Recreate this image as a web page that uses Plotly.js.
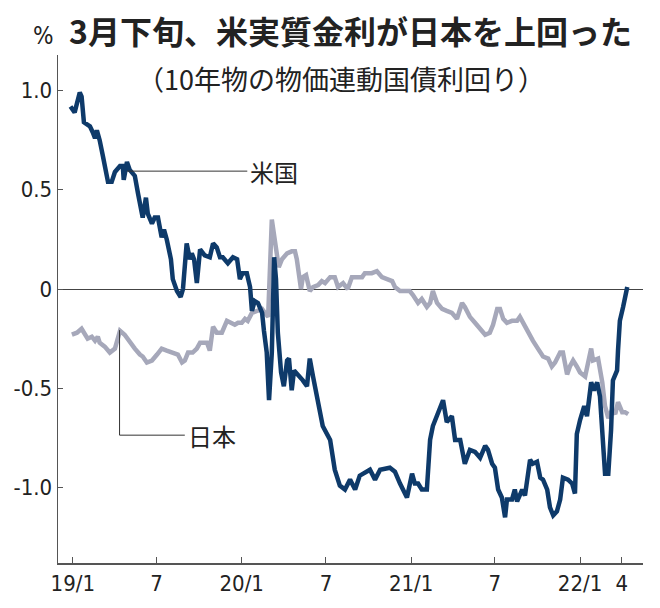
<!DOCTYPE html>
<html>
<head>
<meta charset="utf-8">
<script src="https://cdn.plot.ly/plotly-3.0.1.min.js"></script>
<style>html,body{margin:0;padding:0;background:#fff;}#chart{width:660px;height:608px;}</style>
</head>
<body>
<div id="chart"></div>
<script>
// US 10-year inflation-linked (TIPS) real yield, %
const usDates = ["2018-12-27","2019-01-05","2019-01-16","2019-01-20","2019-01-25","2019-02-07","2019-02-13","2019-02-18","2019-02-22","2019-02-28","2019-03-07","2019-03-15","2019-03-18","2019-03-26","2019-04-02","2019-04-13","2019-04-19","2019-04-21","2019-04-28","2019-05-04","2019-05-15","2019-05-22","2019-05-30","2019-06-01","2019-06-08","2019-06-12","2019-06-21","2019-06-27","2019-07-04","2019-07-12","2019-07-17","2019-07-23","2019-08-01","2019-08-05","2019-08-14","2019-08-22","2019-08-27","2019-09-04","2019-09-11","2019-09-15","2019-09-20","2019-09-26","2019-10-03","2019-10-13","2019-10-24","2019-10-31","2019-11-08","2019-11-15","2019-11-21","2019-12-02","2019-12-13","2019-12-22","2019-12-28","2020-01-03","2020-01-12","2020-01-19","2020-01-23","2020-01-29","2020-02-05","2020-02-14","2020-02-18","2020-02-24","2020-02-29","2020-03-06","2020-03-11","2020-03-15","2020-03-19","2020-03-26","2020-04-01","2020-04-08","2020-04-12","2020-04-18","2020-04-23","2020-05-01","2020-05-12","2020-05-21","2020-05-27","2020-06-03","2020-06-11","2020-06-18","2020-06-24","2020-07-10","2020-07-20","2020-07-31","2020-08-11","2020-08-22","2020-09-02","2020-09-12","2020-10-04","2020-10-15","2020-10-26","2020-11-16","2020-11-27","2020-12-08","2020-12-23","2021-01-03","2021-01-09","2021-01-16","2021-01-24","2021-02-04","2021-02-11","2021-02-17","2021-02-28","2021-03-11","2021-03-19","2021-03-30","2021-04-06","2021-04-17","2021-04-27","2021-05-08","2021-05-19","2021-05-30","2021-06-10","2021-06-16","2021-06-25","2021-07-01","2021-07-08","2021-07-16","2021-07-23","2021-07-27","2021-08-07","2021-08-13","2021-08-18","2021-08-29","2021-09-04","2021-09-15","2021-09-21","2021-09-30","2021-10-07","2021-10-13","2021-10-22","2021-10-28","2021-11-04","2021-11-12","2021-11-19","2021-11-25","2021-12-06","2021-12-15","2021-12-21","2021-12-25","2022-01-01","2022-01-10","2022-01-16","2022-01-25","2022-01-31","2022-02-07","2022-02-13","2022-02-20","2022-02-24","2022-03-03","2022-03-09","2022-03-13","2022-03-22","2022-03-24","2022-03-28","2022-04-04","2022-04-13"];
const usValues = [0.92,0.89,0.99,0.97,0.84,0.82,0.79,0.76,0.80,0.75,0.67,0.58,0.54,0.54,0.59,0.62,0.62,0.55,0.64,0.60,0.57,0.48,0.38,0.36,0.46,0.38,0.33,0.36,0.36,0.26,0.30,0.25,0.15,0.05,-0.01,-0.04,0.00,0.23,0.15,0.18,0.15,0.03,0.20,0.17,0.16,0.23,0.21,0.16,0.16,0.13,0.16,0.15,0.05,0.08,0.08,0.01,-0.11,-0.06,-0.07,-0.12,-0.21,-0.32,-0.56,-0.32,0.16,0.05,-0.22,-0.42,-0.49,-0.36,-0.35,-0.51,-0.41,-0.43,-0.46,-0.49,-0.35,-0.44,-0.54,-0.63,-0.69,-0.76,-0.91,-0.99,-1.01,-0.96,-1.01,-0.94,-0.91,-0.96,-0.91,-0.90,-0.92,-0.98,-1.05,-0.93,-0.98,-0.98,-1.01,-1.01,-0.76,-0.69,-0.63,-0.56,-0.67,-0.64,-0.76,-0.76,-0.88,-0.81,-0.82,-0.85,-0.79,-0.81,-0.88,-0.90,-1.01,-1.05,-1.15,-1.06,-1.06,-1.01,-1.07,-1.01,-1.04,-0.86,-0.88,-0.87,-0.95,-0.96,-1.01,-1.10,-1.14,-1.12,-1.06,-0.95,-0.96,-0.98,-1.03,-0.73,-0.66,-0.59,-0.64,-0.47,-0.51,-0.47,-0.54,-0.75,-0.93,-0.93,-0.71,-0.46,-0.41,-0.31,-0.16,-0.09,0.01];

// Japan 10-year inflation-indexed JGB real yield, %
const jpDates = ["2018-12-30","2019-01-10","2019-01-20","2019-01-27","2019-02-02","2019-02-11","2019-02-18","2019-02-24","2019-02-28","2019-03-11","2019-03-22","2019-04-02","2019-04-13","2019-04-23","2019-05-04","2019-05-15","2019-05-26","2019-06-01","2019-06-10","2019-06-21","2019-07-02","2019-07-12","2019-07-23","2019-08-03","2019-08-09","2019-08-16","2019-08-25","2019-08-31","2019-09-07","2019-09-17","2019-09-26","2019-10-03","2019-10-09","2019-10-18","2019-10-24","2019-10-31","2019-11-08","2019-11-19","2019-11-30","2019-12-11","2019-12-17","2019-12-24","2020-01-01","2020-01-08","2020-01-14","2020-01-23","2020-02-03","2020-02-14","2020-02-20","2020-02-27","2020-03-06","2020-03-11","2020-03-17","2020-03-21","2020-03-28","2020-04-08","2020-04-18","2020-04-25","2020-04-29","2020-05-08","2020-05-12","2020-05-19","2020-05-27","2020-06-03","2020-06-14","2020-06-22","2020-06-29","2020-07-10","2020-07-20","2020-07-27","2020-08-07","2020-08-17","2020-08-26","2020-09-06","2020-09-17","2020-09-23","2020-10-08","2020-10-19","2020-10-30","2020-11-10","2020-11-21","2020-11-27","2020-12-08","2020-12-19","2020-12-29","2021-01-05","2021-01-16","2021-01-24","2021-02-04","2021-02-11","2021-02-17","2021-02-26","2021-03-09","2021-03-19","2021-03-30","2021-04-10","2021-04-21","2021-04-27","2021-05-08","2021-05-19","2021-05-30","2021-06-10","2021-06-20","2021-06-27","2021-07-06","2021-07-12","2021-07-19","2021-07-27","2021-08-07","2021-08-18","2021-08-24","2021-09-04","2021-09-11","2021-09-21","2021-10-02","2021-10-13","2021-10-24","2021-11-01","2021-11-08","2021-11-19","2021-11-25","2021-12-04","2021-12-10","2021-12-17","2021-12-25","2022-01-01","2022-01-12","2022-01-25","2022-01-29","2022-02-09","2022-02-18","2022-02-24","2022-03-03","2022-03-11","2022-03-18","2022-03-24","2022-04-02","2022-04-08","2022-04-15"];
const jpValues = [-0.23,-0.22,-0.20,-0.23,-0.25,-0.24,-0.26,-0.24,-0.27,-0.29,-0.32,-0.30,-0.21,-0.23,-0.27,-0.30,-0.33,-0.34,-0.37,-0.36,-0.33,-0.30,-0.31,-0.32,-0.32,-0.33,-0.37,-0.36,-0.32,-0.32,-0.30,-0.27,-0.27,-0.27,-0.31,-0.19,-0.22,-0.22,-0.16,-0.17,-0.18,-0.17,-0.17,-0.15,-0.16,-0.12,-0.11,-0.10,-0.12,-0.14,0.35,0.28,0.20,0.11,0.15,0.18,0.19,0.19,0.15,0.00,0.06,0.07,-0.01,0.01,0.02,0.04,0.03,0.06,0.06,0.01,0.03,0.00,0.06,0.06,0.06,0.08,0.08,0.09,0.06,0.05,0.04,0.01,-0.01,-0.01,-0.01,-0.03,-0.07,-0.05,-0.09,-0.07,-0.01,-0.07,-0.10,-0.11,-0.12,-0.15,-0.07,-0.09,-0.14,-0.17,-0.20,-0.23,-0.22,-0.18,-0.10,-0.10,-0.15,-0.17,-0.16,-0.16,-0.14,-0.19,-0.21,-0.26,-0.30,-0.34,-0.35,-0.39,-0.37,-0.32,-0.32,-0.43,-0.39,-0.36,-0.39,-0.42,-0.44,-0.30,-0.36,-0.35,-0.47,-0.59,-0.65,-0.61,-0.63,-0.57,-0.62,-0.62,-0.63];

const xTickVals = ["2019-01-01","2019-07-01","2020-01-01","2020-07-01","2021-01-01","2021-07-01","2022-01-01","2022-04-01"];
const xTickText = ["19/1","7","20/1","7","21/1","7","22/1","4"];
const yTickVals = [-1, -0.5, 0, 0.5, 1];
const yTickText = ["-1.0","-0.5","0","0.5","1.0"];
const labelUS = "米国";
const labelJP = "日本";
const titleText = "3月下旬、米実質金利が日本を上回った";
const subtitleText = "（10年物の物価連動国債利回り）";

const numFont = "Liberation Sans Narrow, DejaVu Sans Condensed, sans-serif";
const jpFont = "Noto Sans CJK JP, sans-serif";

const traces = [
  {x: jpDates, y: jpValues, type: "scatter", mode: "lines",
   line: {color: "#a6a8ba", width: 4.5, shape: "linear"}, hoverinfo: "skip"},
  {x: usDates, y: usValues, type: "scatter", mode: "lines",
   line: {color: "#0e3a6a", width: 4.5, shape: "linear"}, hoverinfo: "skip"}
];

const layout = {
  width: 660, height: 608,
  margin: {l: 58, r: 17, t: 55, b: 45},
  paper_bgcolor: "#fff", plot_bgcolor: "#fff",
  showlegend: false,
  xaxis: {
    type: "date", range: ["2018-11-30", "2022-05-17"],
    tickmode: "array", tickvals: xTickVals, ticktext: xTickText,
    ticks: "inside", ticklen: 6, tickwidth: 1, tickcolor: "#555",
    showline: true, linecolor: "#555", linewidth: 1.5,
    showgrid: false, zeroline: false,
    tickfont: {family: numFont, size: 22, color: "#222"}
  },
  yaxis: {
    range: [-1.38, 1.179],
    tickmode: "array", tickvals: yTickVals, ticktext: yTickText,
    ticks: "inside", ticklen: 5, tickwidth: 1, tickcolor: "#555",
    showline: true, linecolor: "#555", linewidth: 1.5,
    showgrid: false, zeroline: true, zerolinecolor: "#444", zerolinewidth: 1,
    tickfont: {family: numFont, size: 22, color: "#222"}
  },
  shapes: [
    {type: "line", xref: "x", yref: "y", x0: "2019-04-28", y0: 0.594, x1: "2020-01-13", y1: 0.594,
     line: {color: "#333", width: 1}},
    {type: "path", xref: "x", yref: "y",
     path: "M 2019-04-12,-0.207 L 2019-04-12,-0.736 L 2019-08-31,-0.736",
     line: {color: "#333", width: 1}}
  ],
  annotations: [
    {text: labelUS, xref: "x", yref: "y", x: "2020-01-15", y: 0.594, xanchor: "left", yanchor: "middle",
     showarrow: false, font: {family: jpFont, size: 24, color: "#222"}},
    {text: labelJP, xref: "x", yref: "y", x: "2019-09-02", y: -0.736, xanchor: "left", yanchor: "middle",
     showarrow: false, font: {family: jpFont, size: 24, color: "#222"}},
    {text: "<b>" + titleText + "</b>", xref: "paper", yref: "paper", x: 0.015, y: 1.05,
     xanchor: "left", yanchor: "middle", showarrow: false,
     font: {family: jpFont, size: 32, color: "#222"}},
    {text: "%", xref: "paper", yref: "paper", x: -0.003, y: 1.037,
     xanchor: "right", yanchor: "middle", showarrow: false,
     font: {family: numFont, size: 24, color: "#222"}},
    {text: subtitleText, xref: "paper", yref: "paper", x: 0.484, y: 0.953,
     xanchor: "center", yanchor: "middle", showarrow: false,
     font: {family: jpFont, size: 27, color: "#222"}}
  ]
};

Plotly.newPlot("chart", traces, layout, {staticPlot: true, displayModeBar: false});
</script>
</body>
</html>
